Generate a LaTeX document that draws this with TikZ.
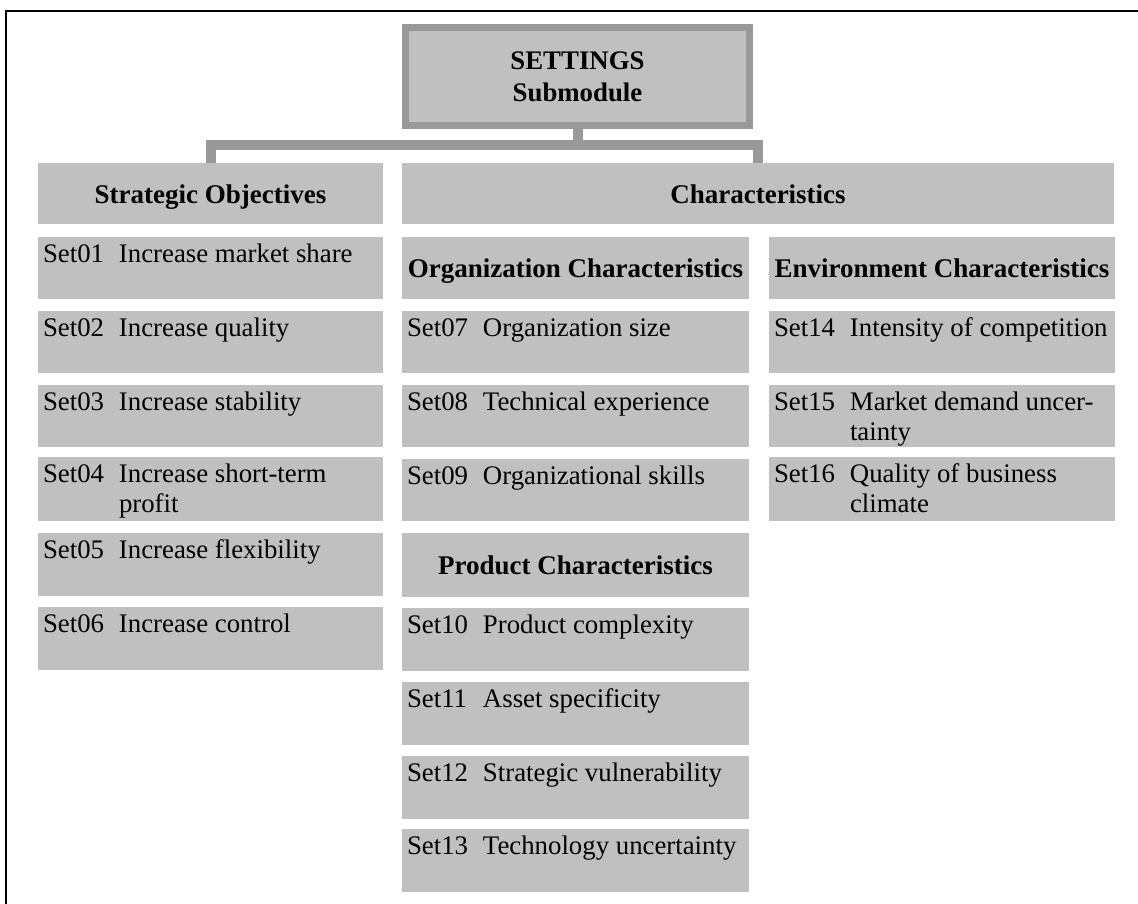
\documentclass[tikz,border=0pt]{standalone}
\usepackage{fontspec}
\setmainfont{Liberation Serif}
\definecolor{boxgray}{HTML}{C0C0C0}
\definecolor{linegray}{HTML}{999999}
\tikzset{
  box/.style={fill=boxgray, draw=none, inner sep=0, outer sep=0, anchor=north west},
  hdr/.style={box, font=\fontsize{27}{30}\selectfont\bfseries, text height=19, text depth=0},
  conn/.style={draw=linegray, line width=10, line join=miter},
  itemtext/.style={anchor=base west, inner sep=0, outer sep=0, font=\fontsize{26.8}{30}\selectfont},
  frame/.style={draw=black, line width=2.5, line join=miter}
}
\newcommand{\setrow}[7]{%
  \node[box, minimum width=#4, minimum height=#5] (#1) at (#2,#3) {};
  \node[itemtext, xshift=5, yshift=-25.5] (#1t) at (#1.north west)
    {\makebox[76pt][l]{#6}\parbox[t]{275pt}{#7}};
}
\begin{document}
\begin{tikzpicture}[x=1pt,y=-1pt]
\useasboundingbox (0,0) rectangle (1138,903);
\fill[white] (0,0) rectangle (1138,903);
\draw[frame] (6,910) -- (6,11) -- (1145,11);

% top box
\node[draw=linegray, line width=7, fill=boxgray, minimum width=344, minimum height=98,
      inner sep=0, align=center, font=\fontsize{26.8}{32}\selectfont\bfseries]
      (settings) at (577.5,76.5) {SETTINGS\\Submodule};

% headers
\node[hdr, minimum width=345, minimum height=61] (strat) at (38,163) {Strategic Objectives};
\node[hdr, minimum width=712, minimum height=61] (char) at (402,163) {Characteristics};
\node[hdr, minimum width=347, minimum height=62] (org) at (402,237) {Organization Characteristics};
\node[hdr, minimum width=346, minimum height=62] (env) at (769,237) {Environment Characteristics};
\node[hdr, minimum width=347, minimum height=64] (prod) at (402,533) {Product Characteristics};

% connectors
\coordinate (bus) at (580,145);
\draw[conn] (settings.south) -- (settings.south |- bus);
\draw[conn] (strat.north) |- (bus) -| (char.north);

% strategic objectives
\setrow{s01}{38}{237}{345}{62}{Set01}{Increase market share}
\setrow{s02}{38}{311}{345}{62}{Set02}{Increase quality}
\setrow{s03}{38}{385}{345}{62}{Set03}{Increase stability}
\setrow{s04}{38}{457}{345}{64}{Set04}{Increase short-term\\profit}
\setrow{s05}{38}{533}{345}{63}{Set05}{Increase flexibility}
\setrow{s06}{38}{607}{345}{63}{Set06}{Increase control}

% organization / product
\setrow{s07}{402}{311}{347}{62}{Set07}{Organization size}
\setrow{s08}{402}{385}{347}{62}{Set08}{Technical experience}
\setrow{s09}{402}{459}{347}{62}{Set09}{Organizational skills}
\setrow{s10}{402}{608}{347}{63}{Set10}{Product complexity}
\setrow{s11}{402}{682}{347}{63}{Set11}{Asset specificity}
\setrow{s12}{402}{756}{347}{63}{Set12}{Strategic vulnerability}
\setrow{s13}{402}{829}{347}{63}{Set13}{Technology uncertainty}

% environment
\setrow{s14}{769}{311}{346}{62}{Set14}{Intensity of competition}
\setrow{s15}{769}{385}{346}{62}{Set15}{Market demand uncer-\\tainty}
\setrow{s16}{769}{457}{346}{64}{Set16}{Quality of business\\climate}
\end{tikzpicture}
\end{document}
